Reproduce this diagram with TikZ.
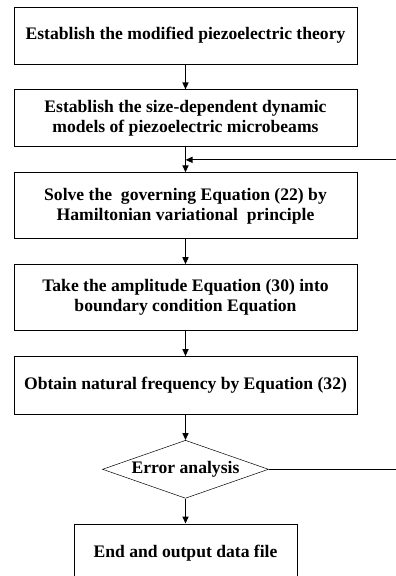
\documentclass[tikz,border=0pt]{standalone}
\usepackage{fontspec}
\setmainfont{Liberation Serif}
\usetikzlibrary{arrows.meta,shapes.geometric,positioning,calc}

\begin{document}
\begin{tikzpicture}[>={Triangle[length=7pt,width=6pt]},x=1pt,y=1pt,node distance=25pt,
            font=\fontsize{17.6}{20}\selectfont\bfseries]
            \tikzstyle{stepbox}=[draw,line width=0.9pt,minimum width=343pt,
                inner sep=0pt,align=center]
            \tikzstyle{checkbox}=[draw,line width=0.5pt,diamond,aspect=2.86,
                minimum width=166pt,minimum height=58pt,inner sep=0pt]
            \useasboundingbox (0,0) rectangle (396,576);
            \clip (0,0) rectangle (396,576);

            \node[stepbox,minimum height=57pt] (theory) at (185.5,540.5)
                {Establish the modified piezoelectric theory};
            \node[stepbox,minimum height=57pt] (model) [below=of theory]
                {Establish the size-dependent dynamic\\models of piezoelectric microbeams};
            \node[stepbox,minimum height=66pt] (solve) [below=of model]
                {Solve the\ \ governing Equation (22) by\\Hamiltonian variational\ \ principle};
            \node[stepbox,minimum height=66pt] (ampl) [below=of solve]
                {Take the amplitude Equation (30) into\\boundary condition Equation};
            \node[stepbox,minimum height=58pt] (freq) [below=of ampl]
                {Obtain natural frequency by Equation (32)};
            \node[checkbox] (error) [below=of freq] {Error analysis};
            \node[stepbox,minimum width=223pt,minimum height=59pt] (done) [below=of error]
                {End and output data file};

            \coordinate (join) at ($(model.south)!0.5!(solve.north)$);
            \coordinate (back) at (412,0);

            \path[->,line width=1.3pt]
                (theory) edge (model)
                (model)  edge (solve)
                (solve)  edge (ampl)
                (ampl)   edge (freq)
                (freq)   edge (error)
                (error)  edge (done);

            % loop back to the model step
            \draw[->,line width=1.3pt] (error.east) -- (error.east -| back) |- (join);
      \end{tikzpicture}
\end{document}
